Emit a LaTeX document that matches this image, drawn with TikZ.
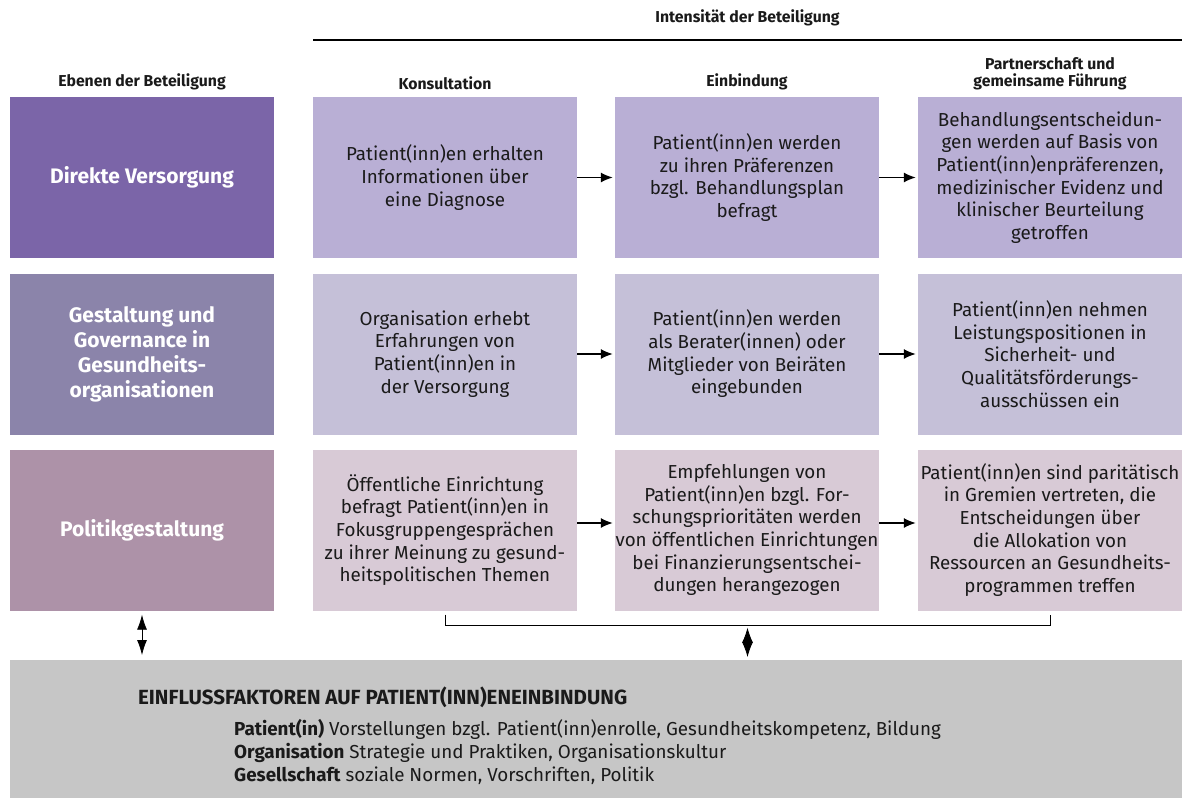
\documentclass[tikz,border=0pt]{standalone}
\usepackage{fontspec}
\setmainfont{Fira Sans}
\usetikzlibrary{arrows.meta,calc}
\definecolor{lvA}{HTML}{7B65A8}
\definecolor{lvB}{HTML}{8B84AA}
\definecolor{lvC}{HTML}{AD92A8}
\definecolor{cA}{HTML}{B9AFD5}
\definecolor{cB}{HTML}{C5C0D8}
\definecolor{cC}{HTML}{D8CAD6}
\definecolor{gbox}{HTML}{C6C6C6}
\definecolor{txt}{HTML}{1A1A1A}
\newcommand{\bodyfnt}{\fontsize{18.8}{22.7}\selectfont}
\newcommand{\lvlfnt}{\fontsize{21}{25}\selectfont\bfseries}
\newcommand{\hdrfnt}{\fontsize{15.8}{17}\selectfont\bfseries}
\tikzset{
  cell/.style={minimum width=264pt, minimum height=161pt, inner sep=0pt, align=center, font=\bodyfnt, text=txt},
  lvl/.style={cell, text=white, font=\lvlfnt},
  hdr/.style={font=\hdrfnt, align=center, anchor=south, inner sep=0pt, text=txt},
  gline/.style={font=\bodyfnt, anchor=base west, inner sep=0pt, text=txt},
  arr/.style={-{Latex[length=12pt,width=10pt]}, line width=1.3pt, shorten >=2pt},
  dbl/.style={{Latex[length=15pt,width=10pt]}-{Latex[length=15pt,width=10pt]}, line width=0.8pt},
  dia/.style={{Latex[length=15pt,width=11pt]}-{Latex[length=15pt,width=11pt]}, line width=0.8pt},
}
\begin{document}
\begin{tikzpicture}[x=1pt,y=-1pt]
\useasboundingbox (0,0) rectangle (1186,798);
% header
\node[hdr, anchor=center] (title) at (747.5,18) {Intensität der Beteiligung};
\coordinate (hl) at (313,40);
\coordinate (hr) at (1182,40);
\draw[line width=1.6pt] (hl) -- (hr);
\node[hdr] (h0) at (142,90) {Ebenen der Beteiligung};
\node[hdr] (h1) at (445,90) {Konsultation};
\node[hdr] (h2) at (747,90) {Einbindung};
\node[hdr] (h3) at (1050,90) {Partnerschaft und\\gemeinsame Führung};
% row 1
\node[lvl, fill=lvA] (l1) at (142,177.5) {Direkte Versorgung};
\node[cell, fill=cA] (a1) at (445,177.5) {Patient(inn)en erhalten\\Informationen über\\eine Diagnose};
\node[cell, fill=cA] (a2) at (747,177.5) {Patient(inn)en werden\\zu ihren Präferenzen\\bzgl. Behandlungsplan\\befragt};
\node[cell, fill=cA] (a3) at (1050,177.5) {Behandlungsentscheidun-\\gen werden auf Basis von\\Patient(inn)enpräferenzen,\\medizinischer Evidenz und\\klinischer Beurteilung\\getroffen};
% row 2
\node[lvl, fill=lvB] (l2) at (142,354) {Gestaltung und\\Governance in\\Gesundheits-\\organisationen};
\node[cell, fill=cB] (b1) at (445,354) {Organisation erhebt\\Erfahrungen von\\Patient(inn)en in\\der Versorgung};
\node[cell, fill=cB] (b2) at (747,354) {Patient(inn)en werden\\als Berater(innen) oder\\Mitglieder von Beiräten\\eingebunden};
\node[cell, fill=cB] (b3) at (1050,354) {Patient(inn)en nehmen\\Leistungspositionen in\\Sicherheit- und\\Qualitätsförderungs-\\ausschüssen ein};
% row 3
\node[lvl, fill=lvC] (l3) at (142,530) {Politikgestaltung};
\node[cell, fill=cC] (c1) at (445,530) {Öffentliche Einrichtung\\befragt Patient(inn)en in\\Fokusgruppengesprächen\\zu ihrer Meinung zu gesund-\\heitspolitischen Themen};
\node[cell, fill=cC] (c2) at (747,530) {Empfehlungen von\\Patient(inn)en bzgl. For-\\schungsprioritäten werden\\von öffentlichen Einrichtungen\\bei Finanzierungsentschei-\\dungen herangezogen};
\node[cell, fill=cC] (c3) at (1050,530) {Patient(inn)en sind paritätisch\\in Gremien vertreten, die\\Entscheidungen über\\die Allokation von\\Ressourcen an Gesundheits-\\programmen treffen};
% arrows
\draw[arr] (a1.east) -- (a2.west);
\draw[arr] (a2.east) -- (a3.west);
\draw[arr] (b1.east) -- (b2.west);
\draw[arr] (b2.east) -- (b3.west);
\draw[arr] ($(c1.east)+(0,-7)$) -- ($(c2.west)+(0,-7)$);
\draw[arr] ($(c2.east)+(0,-7)$) -- ($(c3.west)+(0,-7)$);
% bottom box
\node[fill=gbox, minimum width=1172pt, minimum height=138pt, inner sep=0pt, anchor=north west] (g) at (10,660) {};
\node[font=\fontsize{20.5}{22}\selectfont\bfseries, anchor=west, inner sep=0pt, text=txt] (gt) at (138,697) {EINFLUSSFAKTOREN AUF PATIENT(INN)ENEINBINDUNG};
\node[gline] (g1) at (234,735) {\textbf{Patient(in)} Vorstellungen bzgl. Patient(inn)enrolle, Gesundheitskompetenz, Bildung};
\node[gline] (g2) at (234,758) {\textbf{Organisation} Strategie und Praktiken, Organisationskultur};
\node[gline] (g3) at (234,781) {\textbf{Gesellschaft} soziale Normen, Vorschriften, Politik};
% connectors to bottom box
\draw[dbl] ($(l3.south)+(0,4)$) -- ($(g.north -| l3.south)+(0,-5)$);
\coordinate (bl) at ($(c1.south)+(0,4)$);
\coordinate (br) at ($(c3.south)+(0,4)$);
\draw[line width=1pt] (bl) -- ++(0,11) -| (br);
\coordinate (bm) at ($(bl)!0.5!(br)+(0,13)$);
\draw[dia] (bm) -- ($(g.north -| bm)+(0,-3)$);
\end{tikzpicture}
\end{document}
